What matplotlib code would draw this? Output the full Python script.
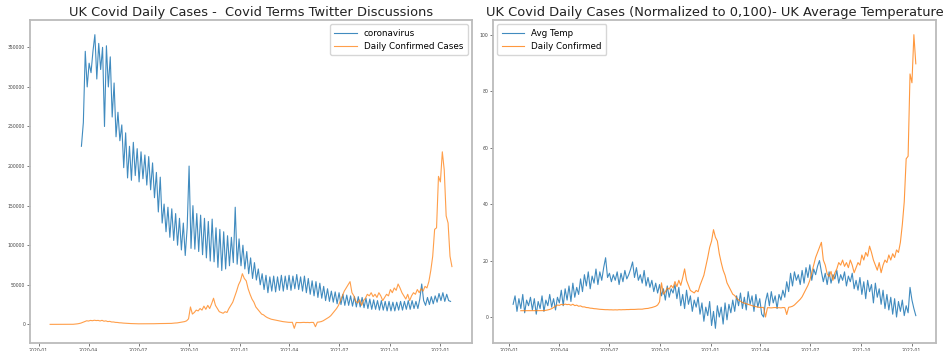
import matplotlib
matplotlib.use("Agg")
import matplotlib.pyplot as plt
import matplotlib.dates as mdates
import numpy as np
import pandas as pd

# Daily tweet counts mentioning "coronavirus" (thousands), sampled twice a week
tweets_start = "2020-03-19"
coronavirus_tweets_k = [
    225, 255, 345, 300, 330, 318, 345, 366, 310, 355, 322, 350, 250, 352, 300, 338,
    262, 305, 237, 268, 232, 252, 198, 242, 185, 225, 182, 230, 188, 222, 180, 218,
    184, 214, 176, 212, 170, 204, 160, 192, 142, 186, 128, 152, 117, 148, 110, 146,
    106, 140, 100, 134, 94, 128, 87, 122, 200, 96, 150, 95, 140, 92, 138, 88,
    134, 84, 130, 80, 133, 79, 122, 72, 120, 68, 117, 70, 112, 74, 110, 78,
    148, 76, 108, 74, 100, 70, 92, 64, 84, 58, 78, 56, 70, 50, 64, 44,
    62, 40, 60, 42, 61, 41, 60, 43, 62, 42, 61, 44, 62, 43, 61, 45,
    63, 44, 60, 42, 61, 40, 58, 38, 55, 36, 54, 34, 52, 33, 48, 30,
    45, 29, 42, 28, 41, 26, 40, 25, 38, 24, 37, 24, 36, 23, 35, 22,
    35, 22, 34, 21, 33, 20, 32, 19, 31, 19, 30, 18, 30, 18, 29, 17,
    29, 17, 28, 17, 28, 18, 29, 18, 29, 19, 30, 19, 30, 20, 29, 20,
    32, 51, 30, 24, 34, 25, 35, 26, 36, 28, 39, 30, 40, 29, 38, 30,
    29,
]

# UK daily confirmed cases (thousands), sampled twice a week
cases_start = "2020-01-22"
daily_confirmed_k = [
    0, 0, 0, 0, 0, 0, 0, 0, 0, 0, 0.01, 0.05, 0.1, 0.3, 0.6, 1.0,
    1.6, 2.5, 3.5, 4.5, 4.2, 5.0, 4.6, 5.2, 4.8, 5.0, 4.3, 5.1, 4.0, 4.4, 3.5, 3.8,
    3.0, 3.0, 2.5, 2.4, 2.0, 1.9, 1.6, 1.5, 1.3, 1.1, 1.0, 0.9, 0.8, 0.8, 0.7, 0.7,
    0.6, 0.7, 0.6, 0.8, 0.7, 0.8, 0.8, 0.9, 0.9, 1.0, 1.0, 1.0, 1.1, 1.2, 1.2, 1.2,
    1.5, 1.7, 1.8, 2.2, 2.5, 3.0, 3.5, 4.5, 7.0, 22, 13, 15, 18, 17, 20, 18,
    23, 19, 24, 20, 26, 33, 24, 20, 16, 15, 14, 16, 15, 20, 24, 28,
    35, 42, 50, 55, 64, 58, 55, 45, 38, 32, 28, 22, 19, 16, 13, 12,
    10, 8.5, 7.5, 6.5, 6.0, 5.5, 5.0, 4.5, 4.0, 3.5, 3.2, 2.8, 2.6, 2.5, 2.6, -5,
    2.4, 2.3, 2.2, 2.4, 2.5, 2.3, 2.4, 2.2, 2.5, 2.4, -3, 2.7, 3.0, 3.5, 4.5, 6,
    7.5, 9, 11, 14, 17, 20, 24, 30, 36, 42, 46, 50, 54, 40, 36, 29,
    27, 31, 24, 30, 33, 38, 36, 40, 35, 38, 34, 40, 36, 30, 34, 38,
    36, 44, 40, 46, 43, 51, 46, 40, 36, 32, 38, 30, 36, 40, 38, 44,
    40, 45, 42, 48, 46, 54, 68, 86, 120, 122, 187, 180, 218, 195, 137, 128,
    86, 73,
]

# UK average daily temperature (deg C), sampled twice a week
temp_start = "2020-01-08"
avg_temp_c = [
    4.5, 7.5, 2.0, 6.5, 3.0, 8.0, 1.5, 6.0, 4.0, 7.0, 2.5, 6.5, 1.0, 5.5, 3.0, 7.5,
    2.0, 6.0, 4.0, 8.0, 3.5, 6.5, 2.5, 7.0, 5.0, 9.5, 4.0, 10.0, 6.0, 11.0, 5.5, 12.0,
    7.0, 10.5, 8.0, 13.5, 9.0, 15.0, 11.0, 16.0, 10.0, 14.5, 12.0, 17.0, 11.5, 16.0,
    13.0, 17.5, 21.0, 14.0, 15.5, 12.5, 15.0, 13.0, 16.0, 11.5, 15.5, 12.5, 16.5, 13.5,
    15.0, 17.0, 19.5, 14.0, 17.5, 13.0, 15.0, 12.0, 16.5, 11.0, 14.0, 10.5, 13.0, 9.0,
    12.0, 8.5, 11.5, 7.5, 10.0, 6.0, 11.0, 7.0, 10.0, 8.5, 11.5, 6.5, 10.5, 4.0,
    8.0, 3.0, 9.5, 4.5, 7.5, 2.0, 6.0, 3.5, 7.0, 1.0, 5.0, -1.5, 3.5, 0.5,
    5.5, -3.0, 2.0, -4.0, 4.0, 0.0, 3.5, -2.5, 5.0, -1.0, 4.5, 1.5, 6.0, 2.0,
    7.5, 4.0, 8.5, 3.0, 7.0, 2.5, 9.0, 4.5, 7.5, 2.0, 8.0, 3.5, 6.5, 1.0,
    0.0, 5.5, 8.5, 4.0, 9.0, 5.0, 7.5, 3.0, 8.0, 6.0, 9.5, 7.0, 12.5, 9.0,
    15.5, 11.0, 16.0, 13.0, 15.0, 11.5, 16.5, 12.0, 17.5, 14.0, 18.5, 13.0, 17.0, 15.0,
    18.0, 20.0, 16.0, 12.5, 15.5, 11.5, 16.0, 12.0, 15.0, 13.5, 16.5, 12.0, 15.0, 13.0,
    16.0, 11.0, 14.5, 12.5, 15.5, 10.0, 13.0, 9.5, 14.0, 8.0, 12.5, 6.5, 13.0, 9.0,
    11.5, 5.0, 12.0, 7.0, 10.0, 4.5, 9.5, 3.0, 8.0, 2.5, 7.0, 1.0, 6.5, 0.0,
    5.5, 2.0, 6.0, 0.5, 4.0, 1.5, 10.5, 6.0, 3.0, 0.5,
]

STEP = "84h"
tweet_dates = pd.date_range(tweets_start, periods=len(coronavirus_tweets_k), freq=STEP)
case_dates = pd.date_range(cases_start, periods=len(daily_confirmed_k), freq=STEP)
temp_dates = pd.date_range(temp_start, periods=len(avg_temp_c), freq=STEP)

tweets = np.array(coronavirus_tweets_k) * 1000
cases = np.array(daily_confirmed_k) * 1000

# cases restricted to the temperature period, scaled to 0..100
in_range = case_dates <= temp_dates.max()
c = cases[in_range]
cases_norm = (c - c.min()) / (c.max() - c.min()) * 100

BLUE = "#1f77b4"
ORANGE = "#ff7f0e"

fig = plt.figure(figsize=(9.53, 3.51), dpi=100)
ax1 = fig.add_axes([0.0315, 0.0228, 0.4638, 0.9202])
ax2 = fig.add_axes([0.5173, 0.0228, 0.4648, 0.9202])

ax1.plot(tweet_dates, tweets, color=BLUE, lw=0.8, alpha=0.85, label="coronavirus")
ax1.plot(case_dates, cases, color=ORANGE, lw=0.8, alpha=0.75, label="Daily Confirmed Cases")
ax1.set_title("UK Covid Daily Cases -  Covid Terms Twitter Discussions", fontsize=9.4, pad=3, color="#222222")
ax1.set_yticks(np.arange(0, 350001, 50000))
ax1.legend(loc="upper right", fontsize=6.3, frameon=True, handlelength=2.6, borderpad=0.5, labelspacing=0.45)

ax2.plot(temp_dates, avg_temp_c, color=BLUE, lw=0.8, alpha=0.85, label="Avg Temp")
ax2.plot(case_dates[in_range], cases_norm, color=ORANGE, lw=0.8, alpha=0.8, label="Daily Confirmed")
ax2.set_title("UK Covid Daily Cases (Normalized to 0,100)- UK Average Temperature", fontsize=9.4, pad=3, color="#222222")
ax2.set_yticks(np.arange(0, 101, 20))
ax2.legend(loc="upper left", fontsize=6.3, frameon=True, handlelength=2.6, borderpad=0.5, labelspacing=0.45)

for ax in (ax1, ax2):
    ax.xaxis.set_major_locator(mdates.MonthLocator(bymonth=[1, 4, 7, 10]))
    ax.xaxis.set_major_formatter(mdates.DateFormatter("%Y-%m"))
    ax.tick_params(labelsize=3.3, length=2, width=0.5, colors="#444444", pad=1.5)
    for s in ax.spines.values():
        s.set_color("#bbbbbb")
        s.set_linewidth(1.3)

fig.savefig("out.png", dpi=100)
